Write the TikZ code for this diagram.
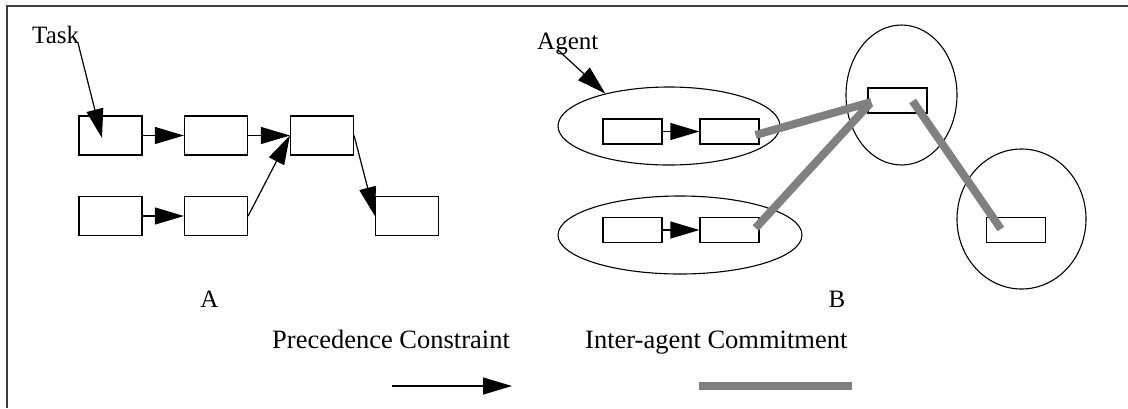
\documentclass[tikz,border=0pt]{standalone}
\usepackage{fontspec}
\setmainfont{Liberation Serif}
\usetikzlibrary{arrows.meta,shapes.geometric,calc}
\definecolor{commit}{RGB}{128,128,128}
\definecolor{frame}{RGB}{60,60,60}
\tikzset{
  taskbox/.style={draw, line width=1.2pt, inner sep=0pt, minimum width=63pt, minimum height=39pt},
  smallbox/.style={draw, line width=1.2pt, inner sep=0pt, minimum width=59pt, minimum height=25pt},
  agentell/.style={draw, ellipse, line width=1.1pt, inner sep=0pt},
  prec/.style={line width=1.2pt, -{Triangle[length=29pt,width=17pt]}},
  commitline/.style={line width=8pt, color=commit, line cap=butt},
  lbl/.style={inner sep=0pt, font=\fontsize{25}{30}\selectfont},
  leg/.style={inner sep=0pt, anchor=base west, font=\fontsize{26.5}{30}\selectfont},
}
\begin{document}
\begin{tikzpicture}[x=1pt,y=-1pt]
\useasboundingbox (0,0) rectangle (1128,408);
% frame (top and left edges)
\draw[line width=2pt, frame] (6.5,408) -- (6.5,6) -- (1128,6);

% ---------- Panel A ----------
\node[lbl, anchor=base west] (tasklbl) at (32,43) {Task};
\node[taskbox] (b1) at (110.5,135.5) {};
\node[taskbox] (b2) at (216,135.5) {};
\node[taskbox] (b3) at (322,135.5) {};
\node[taskbox] (b4) at (110.5,216) {};
\node[taskbox] (b5) at (216,216) {};
\node[taskbox] (b6) at (407,216) {};
\coordinate (taskfrom) at (78,43);
\coordinate (tasktip) at (102,138);
\draw[prec] (taskfrom) -- (tasktip);
\draw[prec] (b1.east) -- (b2.west);
\draw[prec] (b2.east) -- (b3.west);
\draw[prec] (b4.east) -- (b5.west);
\draw[prec] (b5.east) -- (b3.west);
\draw[prec] (b3.east) -- (b6.west);
\node[lbl, anchor=base] (labA) at (209.5,307) {A};

% ---------- Panel B ----------
\node[agentell, minimum width=222pt, minimum height=78pt] (e1) at (669,126) {};
\node[agentell, minimum width=244pt, minimum height=78pt] (e2) at (680,235) {};
\node[agentell, minimum width=111pt, minimum height=140pt] (e3) at (901.5,95) {};
\node[agentell, minimum width=129pt, minimum height=140pt] (e4) at (1021.5,219) {};
\node[lbl, anchor=base west] (agentlbl) at (537,49) {Agent};
\coordinate (agentfrom) at (558,50);
\draw[prec] (agentfrom) -- (e1.153);

\node[smallbox] (a1) at (632.5,131.5) {};
\node[smallbox] (a2) at (729.5,131.5) {};
\node[smallbox] (c1) at (632.5,230) {};
\node[smallbox] (c2) at (729.5,230) {};
\node[smallbox] (t) at (897.5,100.5) {};
\node[smallbox] (r) at (1016,230) {};
\draw[prec] (a1.east) -- (a2.west);
\draw[prec] (c1.east) -- (c2.west);

\draw[commitline] ($(a2.east)+(-4,3.5)$) -- ($(t.west)+(4,1.5)$);
\draw[commitline] ($(c2.east)+(-4,-2)$) -- ($(t.west)+(3,2.5)$);
\draw[commitline] ($(t.east)+(-15,0.5)$) -- ($(r.west)+(15,-1)$);
\node[lbl, anchor=base] (labB) at (837,307) {B};

% ---------- Legend ----------
\node[leg] (legprec) at (272,348) {Precedence Constraint};
\node[leg] (legcommit) at (585,348) {Inter-agent Commitment};
\coordinate (lpa) at (392,386);
\coordinate (lpb) at (512,386);
\draw[prec] (lpa) -- (lpb);
\coordinate (lca) at (699,386);
\coordinate (lcb) at (852,386);
\draw[commitline] (lca) -- (lcb);
\end{tikzpicture}
\end{document}
